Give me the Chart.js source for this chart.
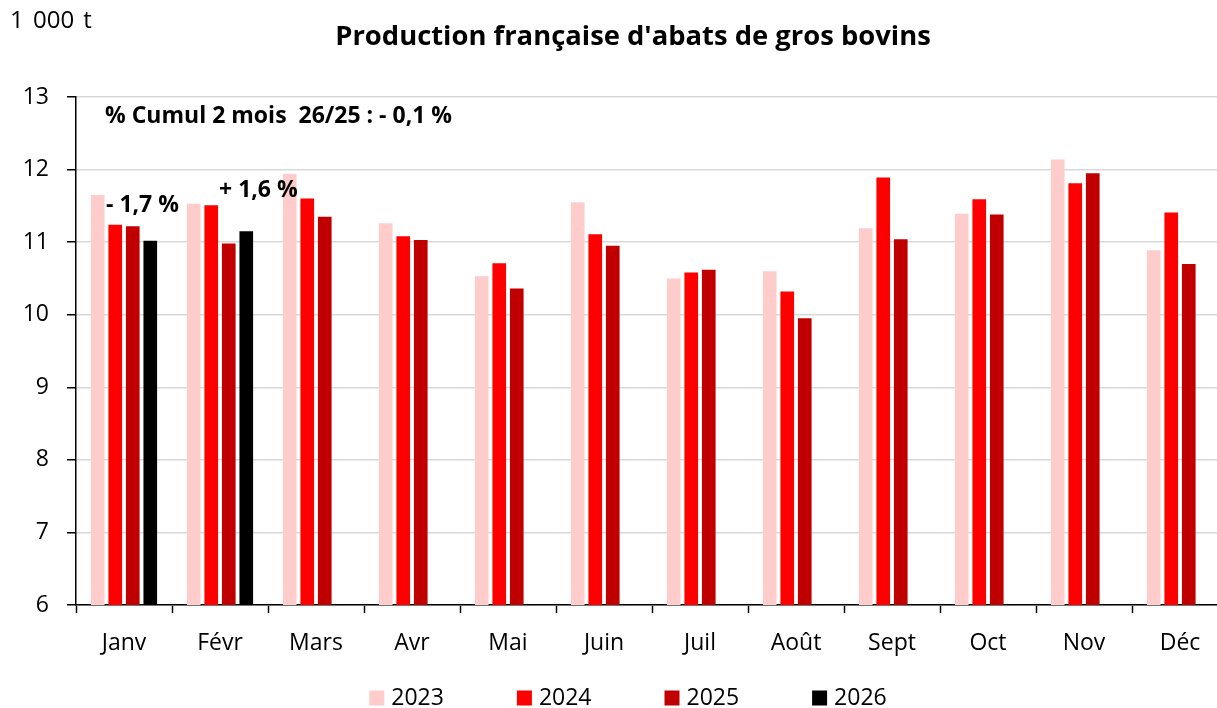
<!DOCTYPE html>
<html>
<head>
<meta charset="utf-8">
<script src="https://cdn.jsdelivr.net/npm/chart.js@4/dist/chart.umd.min.js"></script>
<style>
html,body{margin:0;padding:0;background:#fff;overflow:hidden;width:1217px;height:708px;}
#wrap{width:1266px;height:708px;}
</style>
</head>
<body>
<div id="wrap"><canvas id="c" width="1266" height="708"></canvas></div>
<script>
const months = ['Janv','Févr','Mars','Avr','Mai','Juin','Juil','Août','Sept','Oct','Nov','Déc'];
const v2023 = [11.65,11.53,11.94,11.26,10.53,11.55,10.50,10.60,11.19,11.39,12.14,10.89];
const v2024 = [11.24,11.51,11.60,11.08,10.71,11.11,10.58,10.32,11.89,11.59,11.81,11.41];
const v2025 = [11.22,10.98,11.35,11.03,10.36,10.95,10.62,9.95,11.04,11.38,11.95,10.70];
const v2026 = [11.02,11.15,null,null,null,null,null,null,null,null,null,null];
const seriesLabels = ['2023','2024','2025','2026'];
const seriesColors = ['#FFCCCC','#FF0000','#C00000','#000000'];
const yTicks = [6,7,8,9,10,11,12,13];
const titleText = "Production française d'abats de gros bovins";
const unitText = '1 000 t';
const cumulText = '% Cumul 2 mois  26/25 : - 0,1 %';
const janText = '- 1,7 %';
const febText = '+ 1,6 %';

const FONT = '"Open Sans", "Noto Sans", sans-serif';

const extras = {
  id: 'extras',
  afterDraw(chart) {
    const ctx = chart.ctx;
    const ca = chart.chartArea;
    const xs = chart.scales.x, ys = chart.scales.y;
    ctx.save();
    ctx.fillStyle = '#000';
    ctx.textBaseline = 'middle';
    // unit
    ctx.font = '24px ' + FONT;
    ctx.textAlign = 'left';
    try { ctx.wordSpacing = '3px'; } catch (e) {}
    ctx.fillText(unitText, 10, 21);
    try { ctx.wordSpacing = '0px'; } catch (e) {}
    // title
    ctx.font = 'bold 27.4px ' + FONT;
    ctx.textAlign = 'center';
    ctx.fillText(titleText, 633, 37);
    // annotations
    ctx.font = 'bold 23px ' + FONT;
    ctx.textAlign = 'left';
    ctx.fillText(cumulText, ca.left + 29, ys.getPixelForValue(12.73));
    ctx.fillText(janText, xs.getPixelForValue(0) - 18, ys.getPixelForValue(11.51));
    ctx.fillText(febText, xs.getPixelForValue(1) - 1, ys.getPixelForValue(11.71));
    // legend
    ctx.font = '23px ' + FONT;
    const box = 15, gapBox = 7, gapItem = 73;
    const widths = seriesLabels.map(t => box + gapBox + ctx.measureText(t).width);
    const total = widths.reduce((a,b)=>a+b,0) + gapItem*(widths.length-1);
    let x = 628 - total/2;
    const ly = 698;
    seriesLabels.forEach((t,i) => {
      ctx.fillStyle = seriesColors[i];
      ctx.fillRect(x, ly - box/2, box, box);
      ctx.fillStyle = '#000';
      ctx.fillText(t, x + box + gapBox, ly);
      x += widths[i] + gapItem;
    });
    ctx.restore();
  }
};

new Chart(document.getElementById('c'), {
  type: 'bar',
  data: {
    labels: months,
    datasets: [v2023, v2024, v2025, v2026].map((d,i) => ({
      label: seriesLabels[i],
      data: d,
      backgroundColor: seriesColors[i],
      borderWidth: 0,
      categoryPercentage: 0.73,
      barPercentage: 0.78
    }))
  },
  options: {
    responsive: false,
    devicePixelRatio: 1,
    animation: false,
    layout: { padding: { left: 0, right: 38, top: 97, bottom: 48 } },
    plugins: {
      legend: { display: false },
      title: { display: false },
      tooltip: { enabled: false }
    },
    scales: {
      x: {
        offset: true,
        grid: { offset: true, drawOnChartArea: false, drawTicks: true, tickLength: 8, tickColor: '#000', tickWidth: 1.5 },
        border: { display: true, color: '#000', width: 1.5 },
        ticks: { color: '#000', font: { family: FONT, size: 23 }, padding: 17, maxRotation: 0 },
        afterFit(s) { s.height = 55; }
      },
      y: {
        min: 6, max: 13,
        afterBuildTicks(s) { s.ticks = yTicks.map(v => ({ value: v })); },
        grid: { color: '#D9D9D9', lineWidth: 1.5, drawTicks: true, tickLength: 9, tickColor: '#000', tickWidth: 1.5 },
        border: { display: true, color: '#000', width: 1.5 },
        ticks: { color: '#000', font: { family: FONT, size: 23 }, padding: 18 },
        afterFit(s) { s.width = 76; }
      }
    }
  },
  plugins: [extras]
});
</script>
</body>
</html>
